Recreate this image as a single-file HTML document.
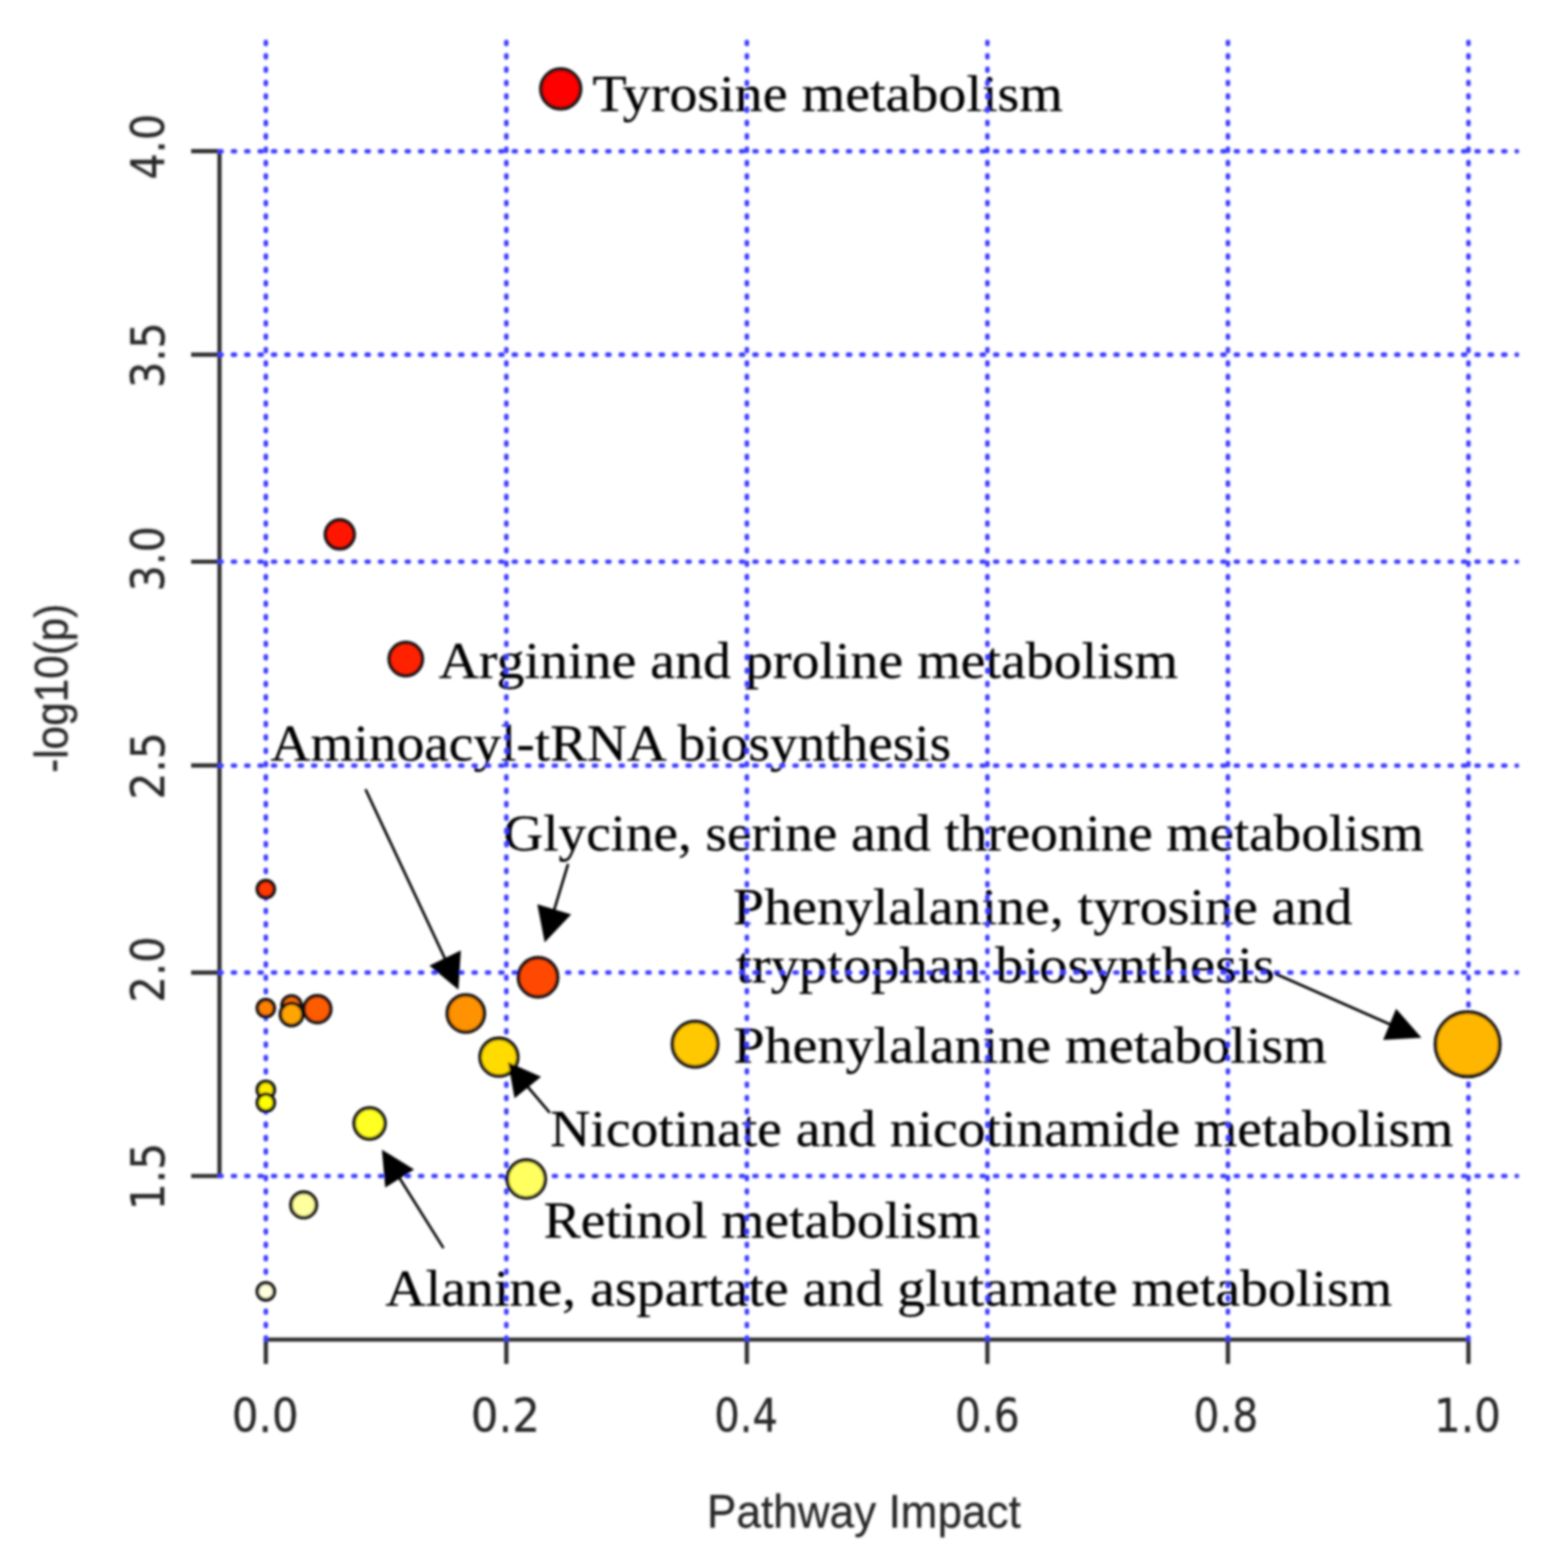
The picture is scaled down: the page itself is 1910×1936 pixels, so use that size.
<!DOCTYPE html><html><head><meta charset="utf-8"><title>Pathway Impact</title>
<style>html,body{margin:0;padding:0;background:#fff;overflow:hidden;}svg{display:block;}.sf{font-family:'Liberation Serif', 'DejaVu Serif', serif;fill:#000;}.ss{font-family:'DejaVu Sans', 'Liberation Sans', sans-serif;font-stretch:condensed;fill:#262626;}.sa{font-family:'Liberation Sans', Arial, sans-serif;fill:#262626;}</style></head><body>
<svg xmlns="http://www.w3.org/2000/svg" width="1910" height="1936" viewBox="0 0 1910 1936">
<defs><filter id="bl" x="-5%" y="-5%" width="110%" height="110%"><feGaussianBlur stdDeviation="1.5"/></filter></defs>
<rect width="1910" height="1936" fill="#fff"/>
<g filter="url(#bl)">
<text class="sf" x="731.42" y="136.80" style="font-size:64px" textLength="580.89" lengthAdjust="spacingAndGlyphs" stroke="#000" stroke-width="0.3">Tyrosine metabolism</text>
<text class="sf" x="541.52" y="837.20" style="font-size:64px" textLength="912.89" lengthAdjust="spacingAndGlyphs" stroke="#000" stroke-width="0.3">Arginine and proline metabolism</text>
<text class="sf" x="334.13" y="939.40" style="font-size:64px" textLength="840.17" lengthAdjust="spacingAndGlyphs" stroke="#000" stroke-width="0.3">Aminoacyl-tRNA biosynthesis</text>
<text class="sf" x="621.51" y="1049.80" style="font-size:64px" textLength="1136.49" lengthAdjust="spacingAndGlyphs" stroke="#000" stroke-width="0.3">Glycine, serine and threonine metabolism</text>
<text class="sf" x="905.14" y="1141.10" style="font-size:64px" textLength="764.60" lengthAdjust="spacingAndGlyphs" stroke="#000" stroke-width="0.3">Phenylalanine, tyrosine and</text>
<text class="sf" x="908.81" y="1213.30" style="font-size:64px" textLength="665.19" lengthAdjust="spacingAndGlyphs" stroke="#000" stroke-width="0.3">tryptophan biosynthesis</text>
<text class="sf" x="905.44" y="1312.20" style="font-size:64px" textLength="732.75" lengthAdjust="spacingAndGlyphs" stroke="#000" stroke-width="0.3">Phenylalanine metabolism</text>
<text class="sf" x="679.35" y="1415.00" style="font-size:64px" textLength="1115.12" lengthAdjust="spacingAndGlyphs" stroke="#000" stroke-width="0.3">Nicotinate and nicotinamide metabolism</text>
<text class="sf" x="671.36" y="1527.80" style="font-size:64px" textLength="539.18" lengthAdjust="spacingAndGlyphs" stroke="#000" stroke-width="0.3">Retinol metabolism</text>
<text class="sf" x="475.72" y="1612.00" style="font-size:64px" textLength="1243.16" lengthAdjust="spacingAndGlyphs" stroke="#000" stroke-width="0.3">Alanine, aspartate and glutamate metabolism</text>
<path d="M271,186.70V1452.00M236,186.70H271M236,437.90H271M236,693.50H271M236,945.20H271M236,1200.80H271M236,1452.00H271M328.20,1654H1813.00M328.20,1654V1684M625.16,1654V1684M922.12,1654V1684M1219.08,1654V1684M1516.04,1654V1684M1813.00,1654V1684" stroke="#2e2e2e" stroke-width="5.2" fill="none" stroke-linecap="butt"/>
<g stroke="#3c3cff" stroke-width="5.6" stroke-linecap="round" fill="none">
<line x1="328.20" y1="1653.75" x2="328.20" y2="48" stroke-dasharray="2.5 13.99"/>
<line x1="625.16" y1="1653.75" x2="625.16" y2="48" stroke-dasharray="2.5 13.99"/>
<line x1="922.12" y1="1653.75" x2="922.12" y2="48" stroke-dasharray="2.5 13.99"/>
<line x1="1219.08" y1="1653.75" x2="1219.08" y2="48" stroke-dasharray="2.5 13.99"/>
<line x1="1516.04" y1="1653.75" x2="1516.04" y2="48" stroke-dasharray="2.5 13.99"/>
<line x1="1813.00" y1="1653.75" x2="1813.00" y2="48" stroke-dasharray="2.5 13.99"/>
<line x1="271.1" y1="186.70" x2="1872.8" y2="186.70" stroke-dasharray="2.5 14.01"/>
<line x1="271.1" y1="437.90" x2="1872.8" y2="437.90" stroke-dasharray="2.5 14.01"/>
<line x1="271.1" y1="693.50" x2="1872.8" y2="693.50" stroke-dasharray="2.5 14.01"/>
<line x1="271.1" y1="945.20" x2="1872.8" y2="945.20" stroke-dasharray="2.5 14.01"/>
<line x1="271.1" y1="1200.80" x2="1872.8" y2="1200.80" stroke-dasharray="2.5 14.01"/>
<line x1="271.1" y1="1452.00" x2="1872.8" y2="1452.00" stroke-dasharray="2.5 14.01"/>
</g>
<text class="ss" x="286.38" y="1768.00" style="font-size:57px" textLength="82.18" lengthAdjust="spacingAndGlyphs" stroke="#262626" stroke-width="0.3">0.0</text>
<text class="ss" x="581.36" y="1768.00" style="font-size:57px" textLength="85.44" lengthAdjust="spacingAndGlyphs" stroke="#262626" stroke-width="0.3">0.2</text>
<text class="ss" x="881.69" y="1768.00" style="font-size:57px" textLength="79.06" lengthAdjust="spacingAndGlyphs" stroke="#262626" stroke-width="0.3">0.4</text>
<text class="ss" x="1179.06" y="1768.00" style="font-size:57px" textLength="80.01" lengthAdjust="spacingAndGlyphs" stroke="#262626" stroke-width="0.3">0.6</text>
<text class="ss" x="1473.55" y="1768.00" style="font-size:57px" textLength="80.12" lengthAdjust="spacingAndGlyphs" stroke="#262626" stroke-width="0.3">0.8</text>
<text class="ss" x="1770.42" y="1768.00" style="font-size:57px" textLength="82.55" lengthAdjust="spacingAndGlyphs" stroke="#262626" stroke-width="0.3">1.0</text>
<text class="ss" transform="translate(203.00,181.50) rotate(-90)" x="-40.28" y="0" style="font-size:57px" textLength="81.10" lengthAdjust="spacingAndGlyphs" stroke="#262626" stroke-width="0.3">4.0</text>
<text class="ss" transform="translate(203.00,438.70) rotate(-90)" x="-40.28" y="0" style="font-size:57px" textLength="81.08" lengthAdjust="spacingAndGlyphs" stroke="#262626" stroke-width="0.3">3.5</text>
<text class="ss" transform="translate(203.00,689.70) rotate(-90)" x="-40.61" y="0" style="font-size:57px" textLength="80.76" lengthAdjust="spacingAndGlyphs" stroke="#262626" stroke-width="0.3">3.0</text>
<text class="ss" transform="translate(203.00,945.90) rotate(-90)" x="-41.39" y="0" style="font-size:57px" textLength="83.32" lengthAdjust="spacingAndGlyphs" stroke="#262626" stroke-width="0.3">2.5</text>
<text class="ss" transform="translate(203.00,1196.80) rotate(-90)" x="-40.94" y="0" style="font-size:57px" textLength="81.42" lengthAdjust="spacingAndGlyphs" stroke="#262626" stroke-width="0.3">2.0</text>
<text class="ss" transform="translate(203.00,1451.90) rotate(-90)" x="-42.49" y="0" style="font-size:57px" textLength="83.48" lengthAdjust="spacingAndGlyphs" stroke="#262626" stroke-width="0.3">1.5</text>
<text class="sa" transform="translate(83.30,849.90) rotate(-90)" x="-104.35" y="0" style="font-size:57px" textLength="208.81" lengthAdjust="spacingAndGlyphs" stroke="#262626" stroke-width="0.3">-log10(p)</text>
<text class="sa" x="872.82" y="1886.10" style="font-size:57px" textLength="387.67" lengthAdjust="spacingAndGlyphs" stroke="#262626" stroke-width="0.3">Pathway Impact</text>
<circle cx="692.3" cy="109.8" r="24.50" fill="#FF0000" stroke="#111" stroke-width="4.4"/>
<circle cx="419.5" cy="659.8" r="17.75" fill="#FF1200" stroke="#111" stroke-width="4.4"/>
<circle cx="501.0" cy="813.7" r="20.48" fill="#FF2400" stroke="#111" stroke-width="4.4"/>
<circle cx="328.2" cy="1097.8" r="10.50" fill="#FF3700" stroke="#111" stroke-width="4.4"/>
<circle cx="664.3" cy="1206.7" r="24.20" fill="#FF4900" stroke="#111" stroke-width="4.4"/>
<circle cx="391.8" cy="1246.0" r="16.55" fill="#FF5B00" stroke="#111" stroke-width="4.4"/>
<circle cx="360.0" cy="1241.4" r="11.80" fill="#FF6D00" stroke="#111" stroke-width="4.4"/>
<circle cx="328.2" cy="1244.8" r="10.50" fill="#FF8000" stroke="#111" stroke-width="4.4"/>
<circle cx="575.1" cy="1251.3" r="22.90" fill="#FF9200" stroke="#111" stroke-width="4.4"/>
<circle cx="360.0" cy="1252.4" r="13.80" fill="#FFA400" stroke="#111" stroke-width="4.4"/>
<circle cx="1812.0" cy="1289.3" r="39.74" fill="#FFB600" stroke="#111" stroke-width="4.4"/>
<circle cx="858.2" cy="1289.3" r="27.98" fill="#FFC800" stroke="#111" stroke-width="4.4"/>
<circle cx="616.0" cy="1305.3" r="23.30" fill="#FFDB00" stroke="#111" stroke-width="4.4"/>
<circle cx="328.2" cy="1345.6" r="10.50" fill="#FFED00" stroke="#111" stroke-width="4.4"/>
<circle cx="328.2" cy="1361.4" r="10.50" fill="#FFFF00" stroke="#111" stroke-width="4.4"/>
<circle cx="456.3" cy="1387.1" r="19.09" fill="#FFFF20" stroke="#111" stroke-width="4.4"/>
<circle cx="649.8" cy="1455.7" r="23.40" fill="#FFFF60" stroke="#111" stroke-width="4.4"/>
<circle cx="374.9" cy="1487.7" r="15.69" fill="#FFFF9F" stroke="#111" stroke-width="4.4"/>
<circle cx="328.2" cy="1594.5" r="10.50" fill="#FFFFDF" stroke="#111" stroke-width="4.4"/>
<line x1="451.8" y1="975.6" x2="554.52" y2="1194.63" stroke="#000" stroke-width="3.2" stroke-linecap="round"/>
<polygon points="566.0,1222.0 530.2,1192.2 569.0,1173.6" fill="#000" stroke="#000" stroke-width="0" stroke-linejoin="miter"/>
<line x1="701.0" y1="1068.0" x2="680.76" y2="1134.88" stroke="#000" stroke-width="3.2" stroke-linecap="round"/>
<polygon points="672.5,1163.4 663.4,1116.4 705.2,1128.9" fill="#000" stroke="#000" stroke-width="0" stroke-linejoin="miter"/>
<line x1="678.0" y1="1373.0" x2="644.35" y2="1333.38" stroke="#000" stroke-width="3.2" stroke-linecap="round"/>
<polygon points="627.3,1311.5 668.0,1329.5 635.3,1356.0" fill="#000" stroke="#000" stroke-width="0" stroke-linejoin="miter"/>
<line x1="546.9" y1="1540.0" x2="486.87" y2="1444.42" stroke="#000" stroke-width="3.2" stroke-linecap="round"/>
<polygon points="471.5,1419.5 511.3,1443.9 475.6,1466.3" fill="#000" stroke="#000" stroke-width="0" stroke-linejoin="miter"/>
<line x1="1575.7" y1="1202.8" x2="1727.49" y2="1269.75" stroke="#000" stroke-width="3.2" stroke-linecap="round"/>
<polygon points="1755.0,1281.3 1723.7,1245.6 1707.7,1284.0" fill="#000" stroke="#000" stroke-width="0" stroke-linejoin="miter"/>
</g></svg></body></html>
